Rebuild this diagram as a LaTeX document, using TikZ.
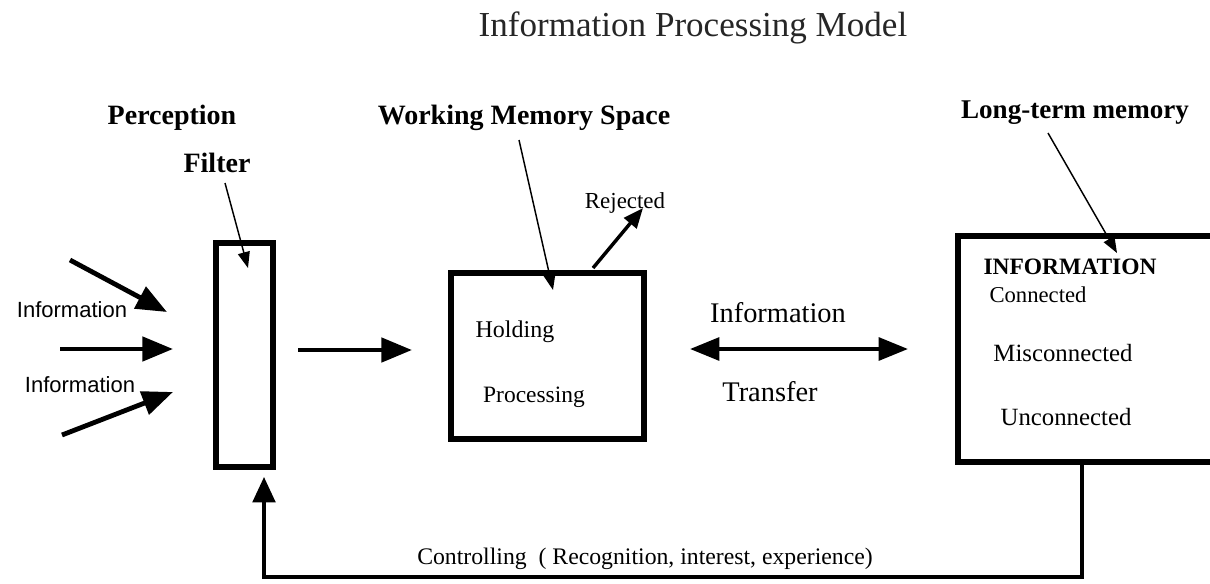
\documentclass[tikz,border=0pt]{standalone}
\usepackage{fontspec}
\setmainfont{Liberation Serif}
\newfontfamily\sansfont{Liberation Sans}
\usetikzlibrary{arrows.meta}

\tikzset{
  box/.style={draw, line width=4.5pt, inner sep=0pt},
  heading/.style={font=\bfseries\fontsize{21}{24}\selectfont, inner sep=0pt},
  body/.style={font=\fontsize{17.5}{20}\selectfont, inner sep=0pt},
  big/.style={font=\fontsize{21.3}{24}\selectfont, inner sep=0pt},
  inlabel/.style={font=\sansfont\fontsize{16.5}{19}\selectfont, inner sep=0pt},
  flow/.style={line width=3.6pt, -{Triangle[length=23pt,width=18pt]}},
  twoway/.style={line width=3pt, {Triangle[length=22pt,width=17pt]}-{Triangle[length=22pt,width=17pt]}},
  reject/.style={line width=2.6pt, -{Triangle[length=15pt,width=12pt]}},
  pointer/.style={line width=1.1pt, -{Triangle[length=12pt,width=9pt]}},
  feedback/.style={line width=2.4pt, line join=miter, -{Triangle[length=19pt,width=17pt]}},
}

\begin{document}
\begin{tikzpicture}[x=0.75pt, y=-0.75pt]
  \useasboundingbox (0,0) rectangle (1210,583);
  \clip (0,0) rectangle (1210,583);

  % title
  \node[font=\fontsize{26.3}{29}\selectfont, text=black!85, anchor=base, inner sep=0pt]
    (title) at (693,36) {Information Processing Model};

  % the three stores
  \node[box, minimum width=42.75pt, minimum height=168pt] (filter) at (244.5,355) {};
  \node[box, minimum width=144.75pt, minimum height=124.5pt] (wm) at (547.5,356) {};
  \node[box, minimum width=196.5pt, minimum height=169.5pt] (ltm) at (1089,349) {};

  % headings
  \node[heading] (perc) at (172,118) {Perception};
  \node[heading] (filt) at (217,163) {Filter};
  \node[heading] (wms) at (524,118) {Working Memory Space};
  \node[heading, font=\bfseries\fontsize{20.3}{24}\selectfont] (ltml) at (1075,113) {Long-term memory};

  % working memory contents
  \node[body, font=\fontsize{18}{20}\selectfont] (hold) at (515,332) {Holding};
  \node[body, font=\fontsize{17.6}{20}\selectfont] (proc) at (534,397) {Processing};
  \node[body, font=\fontsize{17.2}{20}\selectfont] (rej) at (625,203) {Rejected};

  % long-term memory contents
  \node[body, font=\bfseries\fontsize{17.6}{20}\selectfont] (info) at (1070,267) {INFORMATION};
  \node[body, font=\fontsize{17}{20}\selectfont] (conn) at (1038,295) {Connected};
  \node[body, font=\fontsize{18.6}{20}\selectfont] (misc) at (1063,353) {Misconnected};
  \node[body, font=\fontsize{18.6}{20}\selectfont] (unc) at (1066,417) {Unconnected};

  % transfer labels
  \node[big] (tinfo) at (778,313) {Information};
  \node[big] (ttrans) at (770,392) {Transfer};

  % incoming information labels
  \node[inlabel] (in1) at (72,310) {Information};
  \node[inlabel] (in2) at (80,385) {Information};

  % control label
  \node[body, font=\fontsize{17.8}{20}\selectfont] (ctrl) at (645,559)
    {Controlling \ ( Recognition, interest, experience)};

  % arrow end points
  \coordinate (a1s) at (70,260);   \coordinate (a1e) at (167,312);
  \coordinate (a2s) at (60,349);   \coordinate (a2e) at (173,349);
  \coordinate (a3s) at (62,435);   \coordinate (a3e) at (173,392);
  \coordinate (fws) at (298,350);  \coordinate (fwe) at (412,350);
  \coordinate (tl) at (690,349);   \coordinate (tr) at (908,349);
  \coordinate (rs) at (593,268);   \coordinate (re) at (643,208);
  \coordinate (p1s) at (225,183);  \coordinate (p1e) at (248,268);
  \coordinate (p2s) at (519,140);  \coordinate (p2e) at (553,290);
  \coordinate (p3s) at (1048,133); \coordinate (p3e) at (1117,253);
  \coordinate (fbs) at (1082,465); \coordinate (fbc) at (264,577);
  \coordinate (fbe) at (264,477);

  % incoming information
  \draw[flow] (a1s) -- (a1e);
  \draw[flow] (a2s) -- (a2e);
  \draw[flow] (a3s) -- (a3e);

  % filter to working memory
  \draw[flow] (fws) -- (fwe);

  % two-way transfer
  \draw[twoway] (tl) -- (tr);

  % rejected items
  \draw[reject] (rs) -- (re);

  % label pointers
  \draw[pointer] (p1s) -- (p1e);
  \draw[pointer] (p2s) -- (p2e);
  \draw[pointer] (p3s) -- (p3e);

  % control loop back to the filter
  \draw[feedback] (fbs) |- (fbc) -- (fbe);
\end{tikzpicture}
\end{document}
